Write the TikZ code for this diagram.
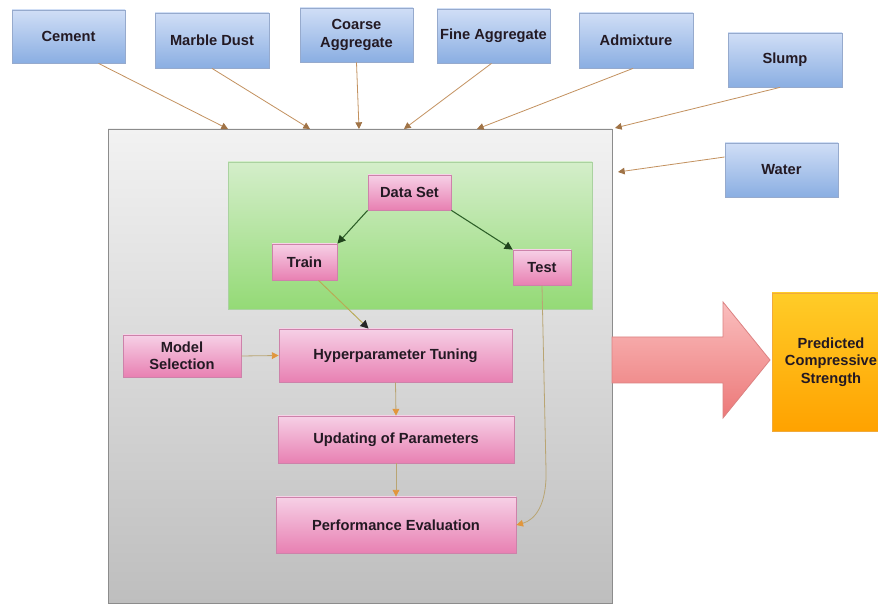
\documentclass[tikz,border=0pt]{standalone}
\usepackage{fontspec}
\setmainfont{Liberation Sans}
\usetikzlibrary{calc,arrows.meta}
\definecolor{txt}{RGB}{35,25,35}
\definecolor{bluetop}{RGB}{208,222,246}
\definecolor{bluebot}{RGB}{138,174,226}
\definecolor{bluebd}{RGB}{150,170,205}
\definecolor{pinktop}{RGB}{246,208,230}
\definecolor{pinkbot}{RGB}{232,128,178}
\definecolor{pinkbd}{RGB}{205,130,170}
\definecolor{greentop}{RGB}{212,238,202}
\definecolor{greenbot}{RGB}{148,218,118}
\definecolor{greenbd}{RGB}{170,210,160}
\definecolor{graytop}{RGB}{242,242,242}
\definecolor{graybot}{RGB}{190,190,190}
\definecolor{graybd}{RGB}{140,140,140}
\definecolor{orangetop}{RGB}{255,204,40}
\definecolor{orangebot}{RGB}{255,162,0}
\definecolor{orangebd}{RGB}{240,170,60}
\definecolor{inline}{RGB}{195,145,95}
\definecolor{inhead}{RGB}{160,115,70}
\definecolor{dgreen}{RGB}{45,95,40}
\definecolor{olive}{RGB}{185,170,85}
\definecolor{flowline}{RGB}{185,165,115}
\definecolor{flowhead}{RGB}{225,150,60}
\definecolor{arrtop}{RGB}{250,190,190}
\definecolor{arrbot}{RGB}{236,120,120}
\definecolor{arrbd}{RGB}{220,130,130}
\begin{document}
\begin{tikzpicture}[x=0.75pt,y=-0.75pt,
  sz/.style 2 args={minimum width=#1*0.75pt, minimum height=#2*0.75pt},
  box/.style={inner sep=0pt, align=center, text=txt, line width=0.6pt,
    font=\bfseries\fontsize{11}{13}\selectfont},
  bluebox/.style={box, draw=bluebd, top color=bluetop, bottom color=bluebot},
  pinkbox/.style={box, draw=pinkbd, top color=pinktop, bottom color=pinkbot},
  inarrow/.style={draw=inline, line width=0.6pt, -{Triangle[length=5pt,width=5pt,color=inhead]}},
  grarrow/.style={draw=dgreen, line width=0.8pt, -{Triangle[length=6pt,width=6pt,color=dgreen!70!black]}},
  flow/.style={draw=flowline, line width=0.6pt, -{Triangle[length=5pt,width=5pt,color=flowhead]}}
]
\clip (0,0) rectangle (878,605);
\fill[white] (0,0) rectangle (878,605);

% containers
\node[box, sz={504}{474}, draw=graybd, top color=graytop, bottom color=graybot] (gray) at (360,366) {};
\node[box, sz={364}{147}, draw=greenbd, top color=greentop, bottom color=greenbot] (green) at (410,235.5) {};

% inputs
\node[bluebox, sz={113}{53}] (cement) at (68.5,36.5) {Cement};
\node[bluebox, sz={114}{55}] (marble) at (212,40.5) {Marble Dust};
\node[bluebox, sz={113}{54}] (coarse) at (356.5,35) {Coarse\\Aggregate};
\node[bluebox, sz={113}{54}] (fine) at (493.5,36) {Fine Aggregate};
\node[bluebox, sz={114}{55}] (admix) at (636,40.5) {Admixture};
\node[bluebox, sz={114}{54}] (slump) at (785,60) {Slump};
\node[bluebox, sz={113}{54}] (water) at (781.5,170) {Water};

% inner nodes
\node[pinkbox, sz={83}{35}] (dataset) at (409.5,192.5) {Data Set};
\node[pinkbox, sz={65}{36}] (train) at (304.5,262) {Train};
\node[pinkbox, sz={58}{35}] (test) at (542,267.5) {Test};
\node[pinkbox, sz={118}{42}] (model) at (182,356) {Model\\Selection};
\node[pinkbox, sz={233}{53}] (hyper) at (395.5,355.5) {Hyperparameter Tuning};
\node[pinkbox, sz={236}{47}] (update) at (396,439.5) {Updating of Parameters};
\node[pinkbox, sz={240}{56}] (perf) at (396,525) {Performance Evaluation};

% output
\node[box, sz={118}{138}, draw=orangebd, top color=orangetop, bottom color=orangebot] (pred) at (831,362) {Predicted\\Compressive\\Strength};
\draw[draw=arrbd, line width=0.6pt, top color=arrtop, bottom color=arrbot]
  (612,337) -- (723,337) -- (723,302) -- (770,360) -- (723,418) -- (723,383) -- (612,383) -- cycle;

% input arrows onto the container
\coordinate (g1) at (228,129);
\coordinate (g2) at (310,129);
\coordinate (g3) at (359,129);
\coordinate (g4) at (404,129);
\coordinate (g5) at (477,129);
\coordinate (g6) at (615,128);
\coordinate (g7) at (618,172);
\draw[inarrow] ($(cement.south)+(30,0)$) -- (g1);
\draw[inarrow] (marble.south) -- (g2);
\draw[inarrow] (coarse.south) -- (g3);
\draw[inarrow] ($(fine.south)+(-2,0)$) -- (g4);
\draw[inarrow] ($(admix.south)+(-3,0)$) -- (g5);
\draw[inarrow] ($(slump.south)+(-5,0)$) -- (g6);
\draw[inarrow] ($(water.west)+(0,-13)$) -- (g7);

% inner flow
\draw[grarrow] (dataset.south west) -- (train.north east);
\draw[grarrow] (dataset.south east) -- (test.north west);
\draw[draw=olive, line width=0.7pt, -{Triangle[length=6pt,width=6pt,color=black!85]}]
  ($(train.south)+(14,0)$) -- ($(hyper.north)+(-27,0)$);
\draw[flow] (model.east) -- (hyper.west);
\draw[flow] (hyper.south) -- (update.north);
\draw[flow] (update.south) -- (perf.north);
\coordinate (tb) at (546,470);
\draw[flow] (test.south) -- (tb) .. controls (547,505) and (535,520) .. (perf.east);
\end{tikzpicture}
\end{document}
